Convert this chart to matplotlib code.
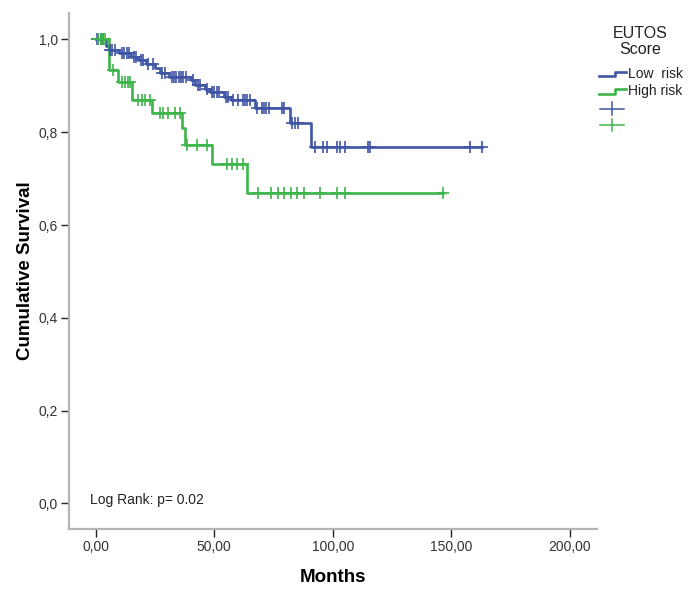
import numpy as np
import matplotlib
matplotlib.use("Agg")
import matplotlib.pyplot as plt
from matplotlib.lines import Line2D

plt.rcParams['font.family'] = ['Liberation Sans', 'DejaVu Sans']

# Kaplan-Meier data (months, survival after event)
low_events = [4.5, 5.5, 10, 15, 18, 21, 25, 27, 31, 40, 42, 46, 48, 54, 57, 67, 82, 91]
low_surv = [0.985, 0.977, 0.970, 0.963, 0.955, 0.947, 0.938, 0.927, 0.918, 0.912,
            0.902, 0.893, 0.887, 0.877, 0.870, 0.852, 0.819, 0.769]
low_censor = [0.5, 1, 2, 3, 6, 7, 8, 11, 12, 13, 14, 16, 17, 19, 20, 22, 24, 28, 29,
              32, 33, 34, 35, 36, 37, 38, 41, 43, 44, 47, 49, 50, 51, 52, 55, 56, 58,
              60, 62, 63, 64, 65, 68, 70, 71, 72, 73, 78.5, 79.5, 83, 84, 85.5,
              92.5, 96, 97.5, 101.8, 103, 105, 115, 115.7, 158, 163]

high_events = [5.5, 9.4, 15.2, 23.6, 36.3, 37.7, 48.9, 63.7]
high_surv = [0.934, 0.909, 0.869, 0.841, 0.809, 0.773, 0.731, 0.670]
high_censor = [1, 2, 3, 4, 7.4, 11, 12.4, 13.8, 14.5, 18, 19.4, 20.8, 22.9, 27.1, 28.5,
               30.6, 33.5, 35.6, 38.4, 42.6, 46.8, 55.3, 57.4, 59.5, 62.3, 68.5, 74,
               76.9, 79.4, 82.4, 84.9, 87.9, 94.6, 101.8, 105.2, 146.6]

x_ticks = [0, 50, 100, 150, 200]
x_tick_labels = ['0,00', '50,00', '100,00', '150,00', '200,00']
y_ticks = [0.0, 0.2, 0.4, 0.6, 0.8, 1.0]
y_tick_labels = ['0,0', '0,2', '0,4', '0,6', '0,8', '1,0']

BLUE = '#3f55a6'
GREEN = '#3db54a'


def km_curve(ax, events, surv, censor, color):
    t = np.concatenate([[0], events, [max(censor)]])
    s = np.concatenate([[1.0], surv, [surv[-1]]])
    ax.step(t, s, where='post', color=color, lw=1.9, zorder=3)
    c = np.array(censor)
    idx = np.searchsorted(np.array(events), c, side='right')
    cs = np.concatenate([[1.0], surv])[idx]
    ax.plot(c, cs, ls='none', marker='+', ms=8, mew=1.2, color=color, zorder=4)


fig = plt.figure(figsize=(6.95, 5.97), dpi=100)
ax = fig.add_axes([69 / 695, 1 - 529 / 597, (597 - 69) / 695, (529 - 13) / 597])

km_curve(ax, low_events, low_surv, low_censor, BLUE)
km_curve(ax, high_events, high_surv, high_censor, GREEN)

ax.set_xlim(-11.3, 211.5)
ax.set_ylim(-0.055, 1.057)
ax.set_xticks(x_ticks)
ax.set_xticklabels(x_tick_labels)
ax.set_yticks(y_ticks)
ax.set_yticklabels(y_tick_labels)
ax.tick_params(direction='out', length=6, width=1, color='#222222',
               labelsize=10, labelcolor='#333333', pad=2)

for side in ['top', 'right']:
    ax.spines[side].set_visible(False)
for side in ['left', 'bottom']:
    ax.spines[side].set_color('#b5b5b5')
    ax.spines[side].set_linewidth(1.6)

ax.set_xlabel('Months', fontsize=13.5, fontweight='bold', labelpad=11)
ax.set_ylabel('Cumulative Survival', fontsize=13.5, fontweight='bold', labelpad=3)

ax.text(0.04, 0.056, 'Log Rank: p= 0.02', transform=ax.transAxes, fontsize=10,
        color='#222222', va='center', ha='left')

# legend drawn by hand (SPSS style)
W, H = 695.0, 597.0


def fx(px):
    return px / W


def fy(py):
    return 1 - py / H


fig.text(fx(640), fy(33), 'EUTOS', fontsize=11.5, ha='center', va='center', color='#222222')
fig.text(fx(640), fy(50), 'Score', fontsize=11.5, ha='center', va='center', color='#222222')

for ylo, yhi, col, lab in [(76, 71.5, BLUE, 'Low  risk'), (93.5, 89, GREEN, 'High risk')]:
    fig.add_artist(Line2D([fx(599), fx(615), fx(615), fx(626)],
                          [fy(ylo), fy(ylo), fy(yhi), fy(yhi)],
                          color=col, lw=1.9, transform=fig.transFigure))
    fig.text(fx(628), fy((ylo + yhi) / 2), lab, fontsize=10, ha='left', va='center',
             color='#222222')

for yc, col in [(108.5, BLUE), (125, GREEN)]:
    fig.add_artist(Line2D([fx(600), fx(624)], [fy(yc), fy(yc)], color=col, lw=1.1,
                          transform=fig.transFigure))
    fig.add_artist(Line2D([fx(612), fx(612)], [fy(yc - 6.5), fy(yc + 6.5)], color=col,
                          lw=1.1, transform=fig.transFigure))

fig.savefig('out.png', dpi=100)
